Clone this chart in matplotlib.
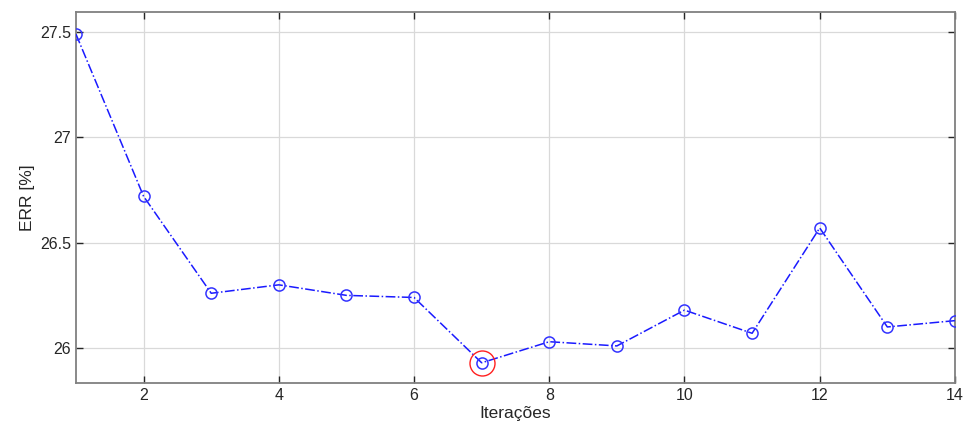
import matplotlib
matplotlib.use("Agg")
import matplotlib.pyplot as plt

plt.rcParams['font.family'] = ['Liberation Sans', 'DejaVu Sans']

# data
iters = [1, 2, 3, 4, 5, 6, 7, 8, 9, 10, 11, 12, 13, 14]
err = [27.49, 26.72, 26.26, 26.30, 26.25, 26.24, 25.93, 26.03, 26.01, 26.18, 26.07, 26.57, 26.10, 26.13]
best_iter = 7
best_err = 25.93

fig = plt.figure(figsize=(9.68, 4.3), dpi=100)
ax = fig.add_axes([0.0785, 0.1093, 0.908, 0.8627])

ax.plot(iters, err, linestyle='-.', color='#1a1aff', linewidth=1.1,
        marker='o', markersize=8, markerfacecolor='none', markeredgecolor='#3333ff',
        markeredgewidth=1.1, zorder=3)
ax.plot([best_iter], [best_err], linestyle='none', marker='o', markersize=18,
        markerfacecolor='none', markeredgecolor='#ff2020', markeredgewidth=1.0, zorder=4)

ax.set_xlim(1, 14)
ax.set_ylim(25.834, 27.595)
ax.set_xticks([2, 4, 6, 8, 10, 12, 14])
ax.set_yticks([26, 26.5, 27, 27.5])
ax.set_yticklabels(['26', '26.5', '27', '27.5'])

ax.grid(True, color='#d9d9d9', linewidth=0.9)
ax.set_axisbelow(True)
for s in ax.spines.values():
    s.set_color('#808080')
    s.set_linewidth(1.3)
ax.tick_params(direction='in', top=True, right=True, length=5, width=1,
               colors='#262626', labelsize=11.5)

ax.set_xlabel('Iterações', fontsize=12.5, color='#262626', labelpad=2)
ax.set_ylabel('ERR [%]', fontsize=12.5, color='#262626', labelpad=4)

fig.savefig('out.png', dpi=100)
